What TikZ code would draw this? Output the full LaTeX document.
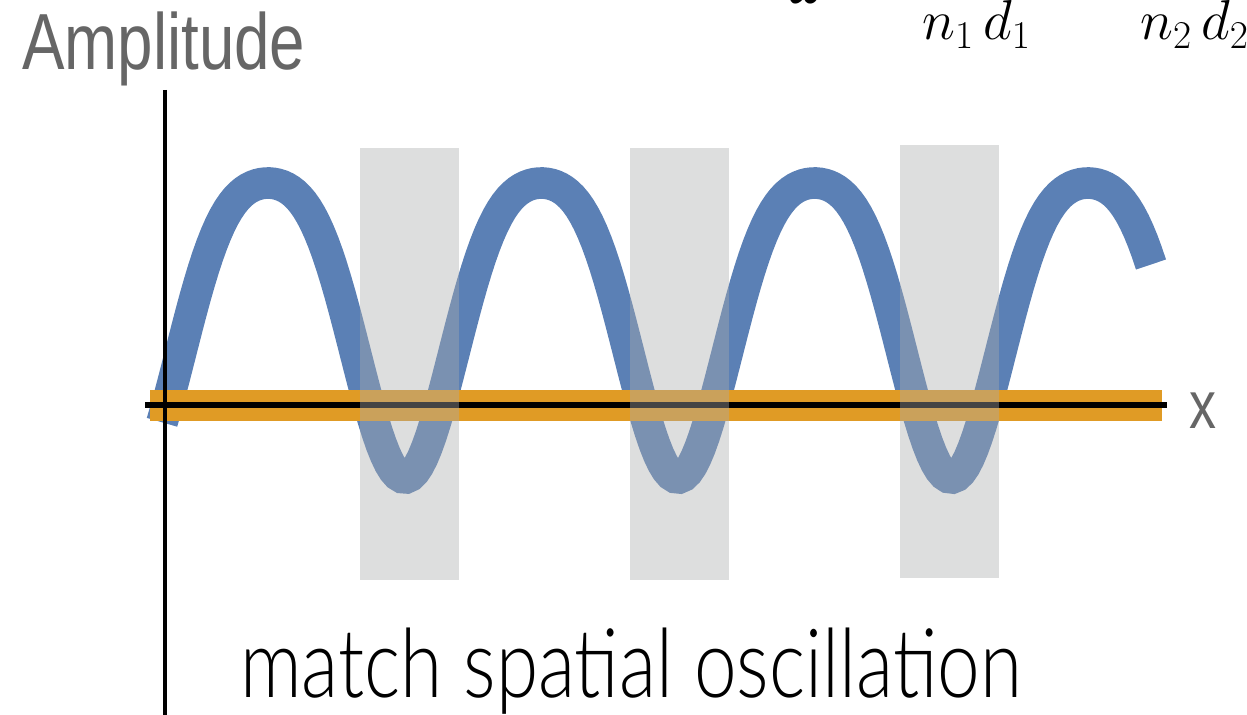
\RequirePackage{fix-cm}
\documentclass[tikz,border=0pt]{standalone}
\usepackage{amsmath}
\usepackage[no-math]{fontspec}
\usepackage{xcolor}
\usepackage{tikz}
\newfontfamily\arialfont{Liberation Sans}
\newfontfamily\gillfont{Lato Light}
\definecolor{waveblue}{RGB}{91,128,181}
\definecolor{bandorange}{RGB}{224,155,37}
\definecolor{slabgray}{RGB}{170,172,172}
\definecolor{labelgray}{RGB}{102,102,102}
\newcommand{\squeezed}[1]{\scalebox{0.8}[1]{#1}}

\begin{document}
\begin{tikzpicture}[x=0.025cm,y=-0.025cm,>=stealth,
    axisline/.style={black,line width=3.2pt},
    slab/.style={fill=slabgray,fill opacity=0.4},
    lbl/.style={anchor=base west,inner sep=0pt}]
    \useasboundingbox (0,0) rectangle (1247,715);
    \draw[waveblue,line width=22.5pt] plot[domain=162:1151,samples=240]
      (\x,{306-(147.5*cos((\x-268)/273.3*360)-24.5*cos((\x-268)/273.3*720))});
    \fill[bandorange] (150,390) rectangle (1162,421);
    \draw[axisline] (165,90) -- (165,720);
    \draw[axisline,line width=4pt] (145,405) -- (1167,405);
    \foreach \sx/\ya/\yb in {360/148/580,630/148/580,900/145/578}
      \fill[slab] (\sx,\ya) rectangle (\sx+99,\yb);
    \node[lbl,text=labelgray,font=\arialfont\fontsize{56.6}{60}\selectfont] (amp) at (22,70) {\squeezed{Amplitude}};
    \node[lbl,text=labelgray,font=\arialfont\fontsize{48}{52}\selectfont] (xlab) at (1189,428) {\squeezed{x}};
    \node[anchor=base,inner sep=0pt,font=\fontsize{40}{44}\selectfont] (om) at (808,3.5) {$\omega$};
    \node[lbl,font=\fontsize{40}{44}\selectfont] (nd1) at (922,40) {$n_1\mkern3mu d_1$};
    \node[lbl,font=\fontsize{40}{44}\selectfont] (nd2) at (1140,40) {$n_2\mkern3mu d_2$};
    \node[lbl,font=\gillfont\fontsize{68}{72}\selectfont] (cap) at (240,697) {\squeezed{match spatial oscillation}};
\end{tikzpicture}
\end{document}
